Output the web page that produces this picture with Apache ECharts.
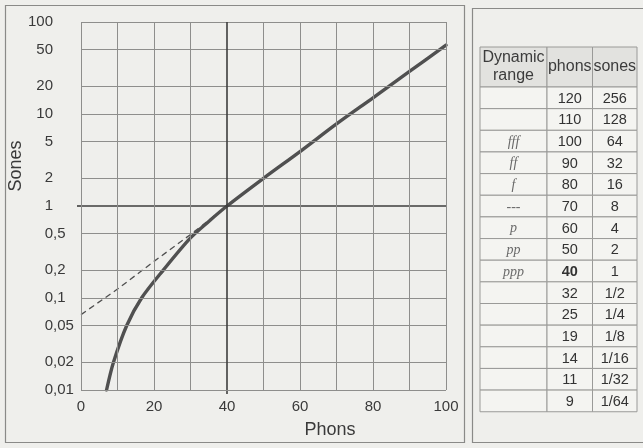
<!DOCTYPE html>
<html>
<head>
<meta charset="utf-8">
<script src="https://cdn.jsdelivr.net/npm/echarts@6/dist/echarts.min.js"></script>
<style>
  html, body { margin: 0; padding: 0; background: #efefec; }
  #main { width: 643px; height: 448px; }
</style>
</head>
<body>
<div id="main"></div>
<script>
// axis ticks
var phonTicks = [0, 10, 20, 30, 40, 50, 60, 70, 80, 90, 100];
var soneTicks = [0.01, 0.02, 0.05, 0.1, 0.2, 0.5, 1, 2, 5, 10, 20, 50, 100];

// loudness curve (solid)
var curvePhons = [7, 8.9, 12.5, 16.6, 22.5, 30, 35, 40, 50, 60, 70, 80, 90, 100];
var curveSones = [0.01, 0.02, 0.05, 0.1, 0.2, 0.45, 0.68, 1, 2, 3.9, 7.8, 15, 29, 56];

// straight-line extrapolation (dashed)
var dashPhons = [0, 10, 20, 30, 40];
var dashSones = [0.066, 0.125, 0.25, 0.49, 1];

// table on the right
var tableHead = ['Dynamic\nrange', 'phons', 'sones'];
var tableDynamics = ['', '', 'fff', 'ff', 'f', '---', 'p', 'pp', 'ppp', '', '', '', '', '', ''];
var tablePhons = ['120', '110', '100', '90', '80', '70', '60', '50', '40', '32', '25', '19', '14', '11', '9'];
var tableSones = ['256', '128', '64', '32', '16', '8', '4', '2', '1', '1/2', '1/4', '1/8', '1/16', '1/32', '1/64'];

var font = '"Liberation Sans", Arial, sans-serif';
var gridColor = '#8e8e8c';
var inkColor = '#505050';
var refLine = { color: '#3e3e3e', width: 1.6, type: 'solid' };

function pairs(xs, ys) {
    return xs.map(function (x, i) { return [x, ys[i]]; });
}

// table drawn with graphic rects + texts
function buildTable() {
    var els = [];
    var colX = [480, 547, 592.5, 637];
    var top = 47, headH = 40, rowH = 21.65;
    for (var c = 0; c < 3; c++) {
        els.push({
            type: 'rect',
            shape: { x: colX[c], y: top, width: colX[c + 1] - colX[c], height: headH },
            style: { fill: '#e2e2df', stroke: '#9a9a98', lineWidth: 1 }
        });
        els.push({
            type: 'text',
            x: (colX[c] + colX[c + 1]) / 2,
            y: top + headH / 2,
            style: {
                text: tableHead[c], fill: '#3c3c3c', font: '16px ' + font,
                align: 'center', verticalAlign: 'middle', lineHeight: 18
            }
        });
    }
    var cols = [tableDynamics, tablePhons, tableSones];
    for (var r = 0; r < tablePhons.length; r++) {
        var y0 = top + headH + r * rowH;
        for (var k = 0; k < 3; k++) {
            els.push({
                type: 'rect',
                shape: { x: colX[k], y: y0, width: colX[k + 1] - colX[k], height: rowH },
                style: { fill: '#f4f4f1', stroke: '#9a9a98', lineWidth: 1 }
            });
            var txt = cols[k][r];
            if (!txt) continue;
            var isDyn = k === 0;
            var bold = (tablePhons[r] === '40' && k === 1);
            els.push({
                type: 'text',
                x: (colX[k] + colX[k + 1]) / 2,
                y: y0 + rowH / 2 + 1,
                style: {
                    text: txt,
                    fill: isDyn ? '#6a6a6a' : '#333',
                    font: isDyn ? 'italic 14px "Liberation Serif", "DejaVu Serif", serif'
                                : (bold ? 'bold ' : '') + '14.5px ' + font,
                    align: 'center', verticalAlign: 'middle'
                }
            });
        }
    }
    return els;
}

var myChart = echarts.init(document.getElementById('main'));

var option = {
    backgroundColor: '#efefec',
    animation: false,
    grid: { left: 81, right: 197, top: 22, bottom: 58 },
    xAxis: {
        type: 'value',
        min: 0,
        max: 100,
        interval: 10,
        axisLine: { show: false },
        // the 40 phon line pokes out below the plot
        axisTick: { show: true, customValues: [40], length: 4, lineStyle: refLine },
        splitLine: { show: false },
        axisLabel: {
            margin: 9,
            customValues: phonTicks,
            fontSize: 15,
            fontFamily: font,
            color: '#3a3a3a',
            formatter: function (v) { return v % 20 === 0 ? String(v) : ''; }
        }
    },
    yAxis: {
        type: 'log',
        logBase: 10,
        min: 0.01,
        max: 100,
        axisLine: { show: false },
        // the 1 sone line pokes out left of the plot
        axisTick: { show: true, customValues: [1], length: 4, lineStyle: refLine },
        splitLine: { show: false },
        axisLabel: {
            margin: 6,
            customValues: soneTicks,
            fontSize: 15,
            fontFamily: font,
            color: '#3a3a3a',
            // integer part right-aligned, decimals hang to the right of the comma
            formatter: function (v) {
                var s = String(+(+v).toPrecision(3));
                var parts = s.split('.');
                return '{i|' + parts[0] + '}{f|' + (parts[1] ? ',' + parts[1] : ' ') + '}';
            },
            rich: {
                i: { fontSize: 15, fontFamily: font, color: '#3a3a3a', align: 'left' },
                f: { fontSize: 15, fontFamily: font, color: '#3a3a3a', width: 22, align: 'left' }
            }
        }
    },
    series: [
        {
            // grid lines at every phon / sone tick, 40 phon and 1 sone emphasised
            type: 'line',
            data: [],
            z: 1,
            markLine: {
                silent: true,
                symbol: ['none', 'none'],
                label: { show: false },
                lineStyle: { color: gridColor, width: 1, type: 'solid' },
                data: soneTicks.map(function (s) {
                    return s === 1 ? { yAxis: s, lineStyle: refLine } : { yAxis: s };
                }).concat(phonTicks.map(function (p) {
                    return p === 40 ? { xAxis: p, lineStyle: refLine } : { xAxis: p };
                }))
            }
        },
        {
            name: 'extrapolation',
            type: 'line',
            z: 3,
            symbol: 'none',
            data: pairs(dashPhons, dashSones),
            lineStyle: { color: inkColor, width: 1.3, type: [6, 4] }
        },
        {
            name: 'loudness',
            type: 'line',
            z: 4,
            symbol: 'none',
            smooth: 0.3,
            data: pairs(curvePhons, curveSones),
            lineStyle: { color: inkColor, width: 3.4, cap: 'round' }
        }
    ],
    graphic: [
        {
            type: 'rect',
            shape: { x: 5.5, y: 5.5, width: 459, height: 437 },
            style: { fill: 'none', stroke: '#8a8a88', lineWidth: 1.2 }
        },
        {
            type: 'rect',
            shape: { x: 472.5, y: 8.5, width: 180, height: 434 },
            style: { fill: 'none', stroke: '#8a8a88', lineWidth: 1.2 }
        },
        {
            type: 'text',
            x: 16,
            y: 166,
            rotation: Math.PI / 2,
            style: {
                text: 'Sones', fill: '#3a3a3a', font: '18px ' + font,
                align: 'center', verticalAlign: 'middle'
            }
        },
        {
            type: 'text',
            x: 330,
            y: 430,
            style: {
                text: 'Phons', fill: '#3a3a3a', font: '18px ' + font,
                align: 'center', verticalAlign: 'middle'
            }
        }
    ].concat(buildTable())
};

myChart.setOption(option);
window.onresize = myChart.resize;
</script>
</body>
</html>
